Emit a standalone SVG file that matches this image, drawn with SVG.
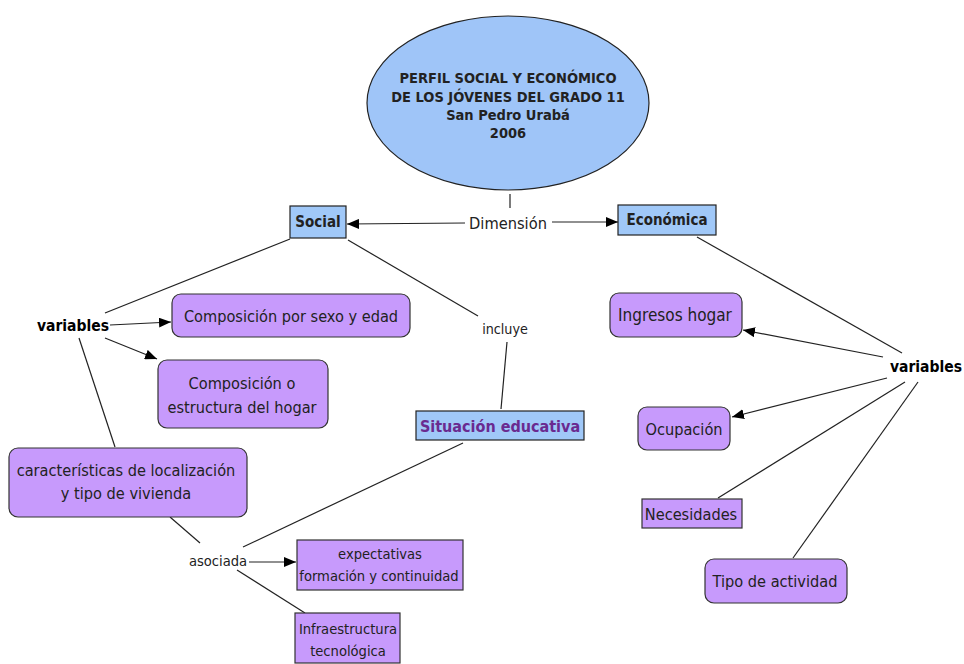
<svg xmlns="http://www.w3.org/2000/svg" width="964" height="664" viewBox="0 0 964 664">
<style>
.t{font-family:"DejaVu Sans Condensed","DejaVu Sans",sans-serif;fill:#222;text-anchor:middle;dominant-baseline:central}
.n{font-size:16.2px}
.s{font-size:14.6px}
.b{font-weight:bold}
.blue{fill:#a0c8f8;stroke:#222;stroke-width:1.2}
.pur{fill:#c79afc;stroke:#333;stroke-width:1.2}
.ln{stroke:#222;stroke-width:1.2;fill:none}
.ar{stroke:#222;stroke-width:1.2;fill:none;marker-end:url(#ah)}
</style>
<defs>
<marker id="ah" viewBox="0 0 12 10" refX="12" refY="5" markerWidth="12" markerHeight="10" markerUnits="userSpaceOnUse" orient="auto">
<path d="M0,0 L12,5 L0,10 z" fill="#000"/>
</marker>
</defs>
<rect width="964" height="664" fill="#fff"/>
<g id="connectors">
<line class="ln" x1="510" y1="194" x2="510" y2="208"/>
<line class="ar" x1="465" y1="223" x2="347" y2="224"/>
<line class="ar" x1="552" y1="222" x2="618" y2="222"/>
<line class="ln" x1="290" y1="239" x2="105" y2="313"/>
<line class="ln" x1="348" y1="240" x2="478" y2="316"/>
<line class="ln" x1="507" y1="342" x2="501" y2="409"/>
<line class="ln" x1="463" y1="443" x2="243" y2="547"/>
<line class="ar" x1="110" y1="325" x2="171" y2="322"/>
<line class="ar" x1="105" y1="338" x2="157" y2="359"/>
<line class="ln" x1="79" y1="338" x2="115" y2="447"/>
<line class="ln" x1="170" y1="517" x2="200" y2="543"/>
<line class="ar" x1="249" y1="562" x2="296" y2="562"/>
<line class="ln" x1="237" y1="570" x2="305" y2="613"/>
<line class="ln" x1="697" y1="237" x2="902" y2="353"/>
<line class="ar" x1="883" y1="357" x2="743" y2="330"/>
<line class="ar" x1="887" y1="378" x2="732" y2="417"/>
<line class="ln" x1="905" y1="382" x2="718" y2="498"/>
<line class="ln" x1="918" y1="382" x2="793" y2="558"/>
</g>
<g id="perfil">
<ellipse cx="508" cy="103" rx="141" ry="87" fill="#9fc5f8" stroke="#222" stroke-width="1.2"/>
<text class="t b" font-size="14.5" x="508" y="78">PERFIL SOCIAL Y ECONÓMICO</text>
<text class="t b" font-size="14.5" x="508" y="97">DE LOS JÓVENES DEL GRADO 11</text>
<text class="t b" font-size="14.5" x="508" y="115">San Pedro Urabá</text>
<text class="t b" font-size="14.5" x="508" y="133">2006</text>
</g>
<g id="dimension"><text class="t" font-size="16.3" x="508" y="223">Dimensión</text></g>
<g id="social">
<rect class="blue" x="290" y="206" width="56" height="32"/>
<text class="t b" font-size="15" x="318" y="222" fill="#1a1a40">Social</text>
</g>
<g id="economica">
<rect class="blue" x="618" y="205" width="98" height="30"/>
<text class="t b" font-size="15" x="667" y="220" fill="#1a1a40">Económica</text>
</g>
<g id="variables-social"><text class="t b" font-size="15.5" x="73" y="326" style="fill:#000">variables</text></g>
<g id="incluye"><text class="t" font-size="14.2" x="505" y="329">incluye</text></g>
<g id="situacion">
<rect class="blue" x="416" y="411" width="168" height="29"/>
<text class="t b" font-size="16" x="500" y="426" style="fill:#6a2a90">Situación educativa</text>
</g>
<g id="comp-sexo">
<rect class="pur" x="172" y="294" width="238" height="43" rx="9"/>
<text class="t n" x="291" y="316">Composición por sexo y edad</text>
</g>
<g id="comp-hogar">
<rect class="pur" x="158" y="360" width="170" height="68" rx="9"/>
<text class="t n" x="242" y="383">Composición o</text>
<text class="t n" x="242" y="407">estructura del hogar</text>
</g>
<g id="caracteristicas">
<rect class="pur" x="9" y="448" width="238" height="69" rx="9"/>
<text class="t n" x="126" y="470">características de localización</text>
<text class="t n" x="126" y="493">y tipo de vivienda</text>
</g>
<g id="asociada"><text class="t s" x="218" y="560">asociada</text></g>
<g id="expectativas">
<rect class="pur" x="297" y="540" width="166" height="50"/>
<text class="t s" x="380" y="553">expectativas</text>
<text class="t s" x="379" y="575">formación y continuidad</text>
</g>
<g id="infraestructura">
<rect class="pur" x="295" y="613" width="105" height="50"/>
<text class="t s" x="348" y="628">Infraestructura</text>
<text class="t s" x="348" y="650">tecnológica</text>
</g>
<g id="variables-eco"><text class="t b" font-size="15.5" x="926" y="367" style="fill:#000">variables</text></g>
<g id="ingresos">
<rect class="pur" x="610" y="293" width="132" height="44" rx="9"/>
<text class="t" font-size="17" x="675" y="315">Ingresos hogar</text>
</g>
<g id="ocupacion">
<rect class="pur" x="638" y="407" width="92" height="43" rx="9"/>
<text class="t n" x="684" y="429">Ocupación</text>
</g>
<g id="necesidades">
<rect class="pur" x="642" y="499" width="100" height="29"/>
<text class="t n" x="691" y="514">Necesidades</text>
</g>
<g id="tipo-actividad">
<rect class="pur" x="705" y="559" width="142" height="44" rx="9"/>
<text class="t n" x="775" y="581">Tipo de actividad</text>
</g>
</svg>
